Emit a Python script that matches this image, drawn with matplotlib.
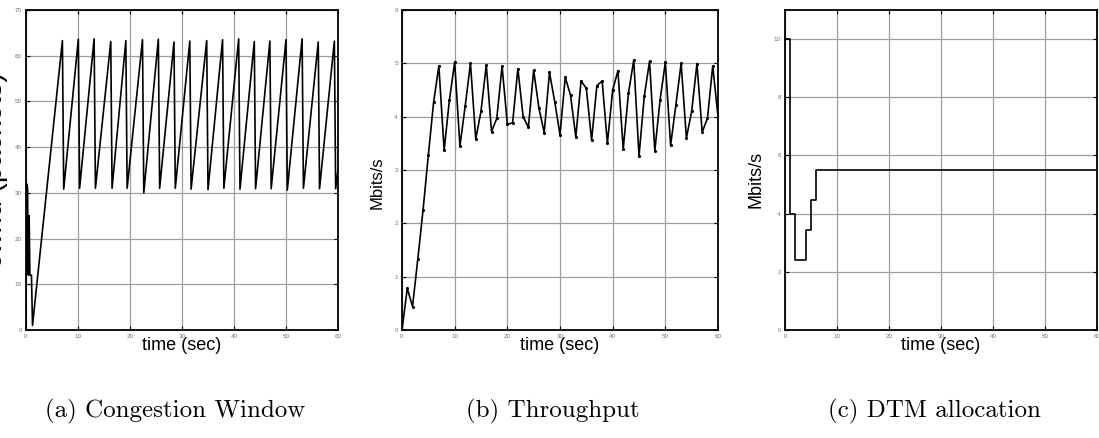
import matplotlib
matplotlib.use("Agg")
import matplotlib.pyplot as plt

plt.rcParams['font.family'] = ['Liberation Sans', 'DejaVu Sans']

# (a) congestion window (packets)
cwnd_init_t = [0, 0.1, 0.3, 0.45, 0.6, 0.75, 0.8, 1.05, 1.25]
cwnd_init_v = [0, 32, 31, 12, 25, 12, 12, 12, 1]
peak_t = [7.0, 10.06, 13.1, 16.3, 19.2, 22.4, 25.45, 28.46, 31.5, 34.75, 37.8, 40.9, 43.9, 46.9, 50.0, 53.1, 56.2, 59.3]
peak_v = [63.3, 63.6, 63.7, 63.1, 63.3, 63.5, 63.6, 63.0, 63.2, 63.3, 63.5, 63.7, 63.1, 63.2, 63.5, 63.7, 63.0, 63.2]
trough_v = [30.8, 31.0, 31.0, 31.0, 31.0, 30.0, 31.0, 31.0, 30.8, 30.7, 31.0, 30.8, 30.9, 30.9, 30.6, 31.0, 30.9, 30.9]
drop_dt = 0.25
cwnd_end = (60, 35)

# (b) throughput, one sample per second
thr_t = list(range(61))
thr_v = [0, 0.78, 0.44, 1.33, 2.25, 3.28, 4.27, 4.95, 3.37, 4.31,
         5.02, 3.45, 4.2, 5.0, 3.58, 4.1, 4.97, 3.72, 3.97, 4.95,
         3.86, 3.88, 4.9, 4.0, 3.8, 4.87, 4.16, 3.7, 4.83, 4.28,
         3.66, 4.74, 4.4, 3.62, 4.67, 4.53, 3.56, 4.58, 4.67, 3.5,
         4.5, 4.86, 3.39, 4.44, 5.06, 3.26, 4.38, 5.04, 3.36, 4.31,
         5.02, 3.46, 4.22, 5.0, 3.6, 4.1, 4.99, 3.71, 3.97, 4.95, 4.0]

# (c) DTM allocation (step)
dtm_t = [0, 1, 2, 4, 5, 6, 60]
dtm_v = [10, 4, 2.42, 3.45, 4.47, 5.5, 5.5]

captions = ["(a) Congestion Window", "(b) Throughput", "(c) DTM allocation"]
caption_x = [175, 553, 934]

# build the sawtooth from the read peaks/troughs
cwnd_t = list(cwnd_init_t)
cwnd_v = list(cwnd_init_v)
for t, p, q in zip(peak_t, peak_v, trough_v):
    cwnd_t += [t, t + drop_dt]
    cwnd_v += [p, q]
cwnd_t.append(cwnd_end[0])
cwnd_v.append(cwnd_end[1])

W, H = 1099, 438
fig = plt.figure(figsize=(W / 100, H / 100), dpi=100)


def make_ax(left, right, top=10, bottom=330):
    return fig.add_axes([left / W, (H - bottom) / H, (right - left) / W, (bottom - top) / H])


def style(ax, ylim, yticks, ylabel, ysize, ylab_x, ylab_y):
    w = ax.get_position().width * W
    ax.set_xlim(0, 60)
    ax.set_xticks(range(0, 61, 10))
    ax.set_ylim(*ylim)
    ax.set_yticks(yticks)
    ax.grid(True, color='0.62', lw=0.9)
    ax.set_axisbelow(True)
    ax.tick_params(direction='in', length=3, top=True, right=True,
                   labelsize=4.5, labelcolor='0.45', pad=3, width=0.8)
    for s in ax.spines.values():
        s.set_linewidth(1.3)
    ax.set_xlabel('time (sec)', fontsize=13, labelpad=-1.5)
    ax.set_ylabel(ylabel, fontsize=ysize)
    ax.yaxis.set_label_coords(-ylab_x / w, ylab_y)


ax1 = make_ax(26, 338)
ax1.plot(cwnd_t, cwnd_v, color='black', lw=1.2)
style(ax1, (0, 70), range(0, 71, 10), 'cwnd (packets)', 21, 18, 0.5)

ax2 = make_ax(402, 718)
ax2.plot(thr_t, thr_v, color='black', lw=1.2, marker='.', ms=2.5)
style(ax2, (0, 6), range(0, 7), 'Mbits/s', 12, 17, 0.46)

ax3 = make_ax(785, 1097)
ax3.plot(dtm_t, dtm_v, color='black', lw=1.2, drawstyle='steps-post')
style(ax3, (0, 11), range(0, 11, 2), 'Mbits/s', 13, 20, 0.47)

for x, txt in zip(caption_x, captions):
    fig.text(x / W, 1 - 411 / H, txt, family='cmr10', fontsize=18,
             ha='center', va='center')

fig.savefig('out.png', dpi=100)
